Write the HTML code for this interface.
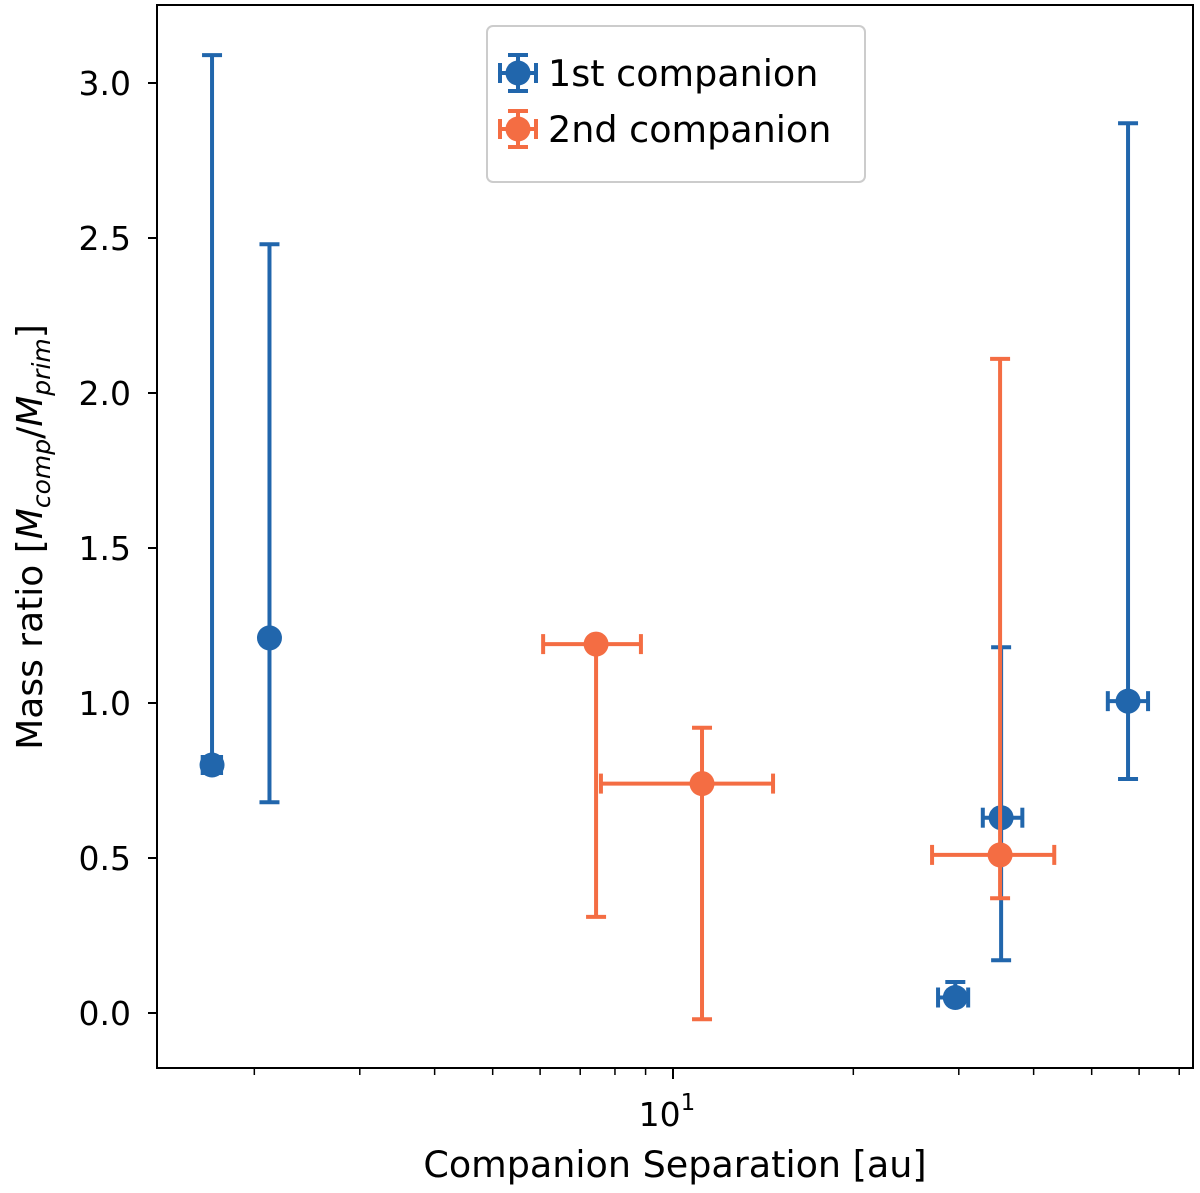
<!DOCTYPE html>
<html><head><meta charset="utf-8"><style>
html,body{margin:0;padding:0;background:#fff}
svg{display:block;font-family:"DejaVu Sans","Liberation Sans",sans-serif}
</style></head><body>
<svg id="chart" width="1200" height="1193" viewBox="0 0 1200 1193">
<g id="plot"></g>
</svg>
<script>
const categories = ["1st companion","2nd companion"];
const seriesColors = ["#2166ac","#f46d43"];
// 1st companion
const s1X = [1.70, 2.12, 29.6, 35.3, 57.5];
const s1XLo = [1.64, 2.10, 27.7, 32.9, 53.2];
const s1XHi = [1.76, 2.14, 31.1, 38.3, 62.1];
const s1Y = [0.80, 1.21, 0.05, 0.63, 1.006];
const s1YLo = [0.80, 0.68, 0.05, 0.17, 0.755];
const s1YHi = [3.09, 2.48, 0.10, 1.18, 2.87];
// 2nd companion
const s2X = [7.44, 11.18, 35.16];
const s2XLo = [6.07, 7.58, 27.07];
const s2XHi = [8.84, 14.69, 43.3];
const s2Y = [1.19, 0.74, 0.51];
const s2YLo = [0.31, -0.02, 0.37];
const s2YHi = [1.19, 0.92, 2.11];
const yTicks = [0.0, 0.5, 1.0, 1.5, 2.0, 2.5, 3.0];
const yTickLabels = ["0.0","0.5","1.0","1.5","2.0","2.5","3.0"];
const xMinorTicks = [2,3,4,5,6,7,8,9,20,30,40,50,60,70];

const NS="http://www.w3.org/2000/svg";
const L=157,R=1193,T=5,B=1068;
function xs(v){return 673+599*Math.log10(v/10);}
function ys(v){return 1013-310*v;}
const g=document.getElementById('plot');
function mk(tag,attrs,parent){const e=document.createElementNS(NS,tag);for(const k in attrs)e.setAttribute(k,attrs[k]);(parent||g).appendChild(e);return e;}

const frame=mk('rect',{x:L,y:T,width:R-L,height:B-T,fill:'none',stroke:'#000','stroke-width':2});



yTicks.forEach((t,i)=>{
  const y=ys(t);
  const tk=mk('line',{x1:L-9,x2:L,y1:y,y2:y,stroke:'#000','stroke-width':2});
  
  
  const tx=mk('text',{x:L-26,y:y+12,'text-anchor':'end','font-size':33,fill:'#000'});
  tx.textContent=yTickLabels[i];
  
  
});
const mj=mk('line',{x1:xs(10),x2:xs(10),y1:B,y2:B+11,stroke:'#000','stroke-width':2});


const mjl=mk('text',{x:xs(10)-6,y:B+58,'text-anchor':'middle','font-size':33,fill:'#000'});
mjl.innerHTML='10<tspan dy="-16" font-size="23">1</tspan>';


xMinorTicks.forEach(t=>{
  const x=xs(t);
  const tk=mk('line',{x1:x,x2:x,y1:B,y2:B+7,stroke:'#000','stroke-width':1.5});
  
  
});
const xl=mk('text',{x:675,y:1177,'text-anchor':'middle','font-size':36.5,fill:'#000'});
xl.textContent='Companion Separation [au]';


const yl=mk('text',{x:0,y:0,'text-anchor':'middle','font-size':36,fill:'#000',transform:'translate(42,537) rotate(-90)'});
yl.innerHTML='Mass ratio [<tspan font-style="italic">M</tspan><tspan font-style="italic" font-size="25" dy="8">comp</tspan><tspan dy="-8">/</tspan><tspan font-style="italic">M</tspan><tspan font-style="italic" font-size="25" dy="8">prim</tspan><tspan dy="-8">]</tspan>';



function drawSeries(X,XLo,XHi,Y,YLo,YHi,color,name){
  for(let i=0;i<X.length;i++){
    const grp=mk('g',{});
    
    
    const cx=xs(X[i]),cy=ys(Y[i]);
    const x0=xs(XLo[i]),x1=xs(XHi[i]),y0=ys(YLo[i]),y1=ys(YHi[i]);
    const sw=4,c=10;
    mk('line',{x1:x0,x2:x1,y1:cy,y2:cy,stroke:color,'stroke-width':sw},grp);
    mk('line',{x1:cx,x2:cx,y1:y0,y2:y1,stroke:color,'stroke-width':sw},grp);
    mk('line',{x1:x0,x2:x0,y1:cy-c,y2:cy+c,stroke:color,'stroke-width':sw},grp);
    mk('line',{x1:x1,x2:x1,y1:cy-c,y2:cy+c,stroke:color,'stroke-width':sw},grp);
    mk('line',{x1:cx-c,x2:cx+c,y1:y0,y2:y0,stroke:color,'stroke-width':sw},grp);
    mk('line',{x1:cx-c,x2:cx+c,y1:y1,y2:y1,stroke:color,'stroke-width':sw},grp);
    mk('circle',{cx:cx,cy:cy,r:12.5,fill:color},grp);
  }
}
drawSeries(s1X,s1XLo,s1XHi,s1Y,s1YLo,s1YHi,seriesColors[0],'first-companion');
drawSeries(s2X,s2XLo,s2XHi,s2Y,s2YLo,s2YHi,seriesColors[1],'second-companion');

const lg=mk('g',{});


mk('rect',{x:487,y:26,width:378,height:156,rx:6,fill:'#fff',stroke:'#ccc','stroke-width':2},lg);
categories.forEach((c,i)=>{
  const cy=73+56*i, cx=518, col=seriesColors[i];
  const e=mk('g',{},lg);
  
  
  mk('line',{x1:500,x2:536,y1:cy,y2:cy,stroke:col,'stroke-width':4},e);
  mk('line',{x1:cx,x2:cx,y1:cy-18,y2:cy+18,stroke:col,'stroke-width':4},e);
  mk('line',{x1:500,x2:500,y1:cy-10,y2:cy+10,stroke:col,'stroke-width':4},e);
  mk('line',{x1:536,x2:536,y1:cy-10,y2:cy+10,stroke:col,'stroke-width':4},e);
  mk('line',{x1:cx-10,x2:cx+10,y1:cy-18,y2:cy-18,stroke:col,'stroke-width':4},e);
  mk('line',{x1:cx-10,x2:cx+10,y1:cy+18,y2:cy+18,stroke:col,'stroke-width':4},e);
  mk('circle',{cx:cx,cy:cy,r:12.5,fill:col},e);
  const t=mk('text',{x:548,y:cy+13,'font-size':36.5,fill:'#000'},e);
  t.textContent=c;
});
</script>
</body></html>
